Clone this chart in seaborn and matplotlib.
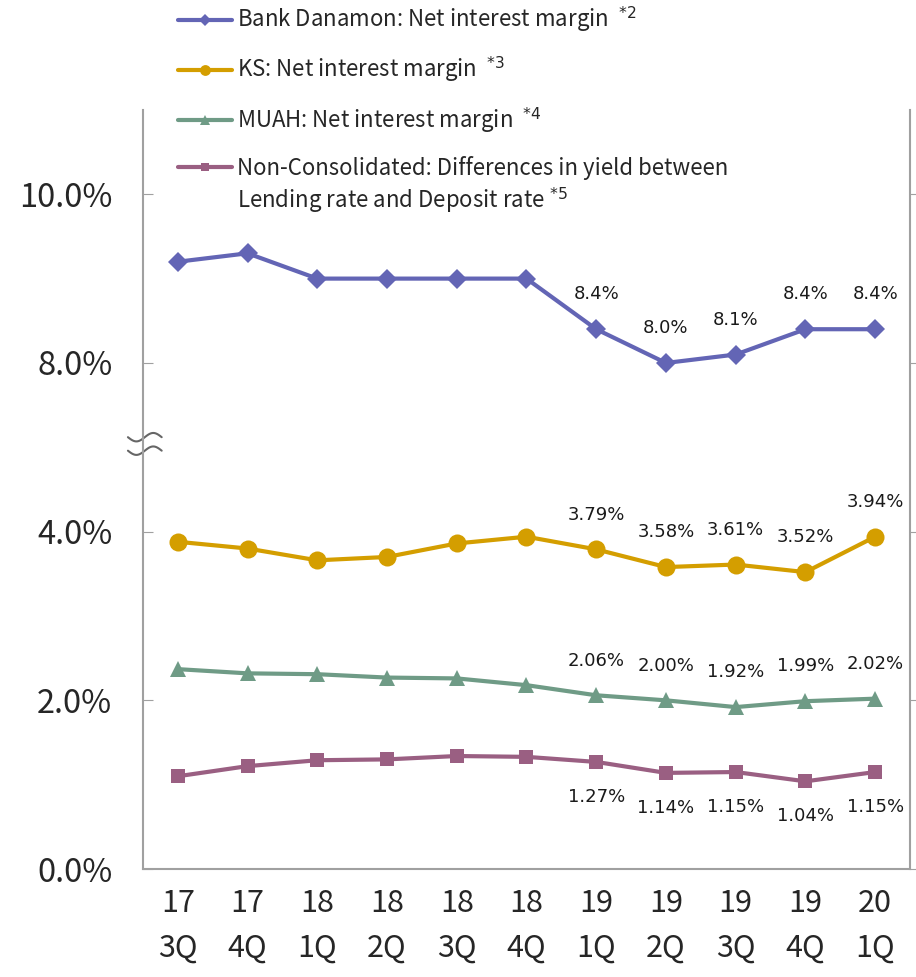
import numpy as np
import pandas as pd
import matplotlib
matplotlib.use("Agg")
import matplotlib.pyplot as plt
import matplotlib.transforms as mtransforms
from matplotlib.lines import Line2D
import seaborn as sns

# ─── DATA ─────────────────────────────────────────────────────────────────────
quarters = ["17\n3Q", "17\n4Q", "18\n1Q", "18\n2Q", "18\n3Q", "18\n4Q",
            "19\n1Q", "19\n2Q", "19\n3Q", "19\n4Q", "20\n1Q"]
danamon = [9.2, 9.3, 9.0, 9.0, 9.0, 9.0, 8.4, 8.0, 8.1, 8.4, 8.4]
ks      = [3.88, 3.80, 3.66, 3.70, 3.86, 3.94, 3.79, 3.58, 3.61, 3.52, 3.94]
muah    = [2.37, 2.32, 2.31, 2.27, 2.26, 2.18, 2.06, 2.00, 1.92, 1.99, 2.02]
noncons = [1.10, 1.22, 1.29, 1.30, 1.34, 1.33, 1.27, 1.14, 1.15, 1.04, 1.15]

ytick_vals   = [0.0, 2.0, 4.0, 8.0, 10.0]
ytick_labels = ["0.0%", "2.0%", "4.0%", "8.0%", "10.0%"]
BREAK_SHIFT = 2.0   # values above the axis break are drawn this much lower
first_label = 6     # data labels from 19 1Q onwards

# ─── STYLE ────────────────────────────────────────────────────────────────────
C_DAN = '#6365B5'
C_KS  = '#D49E00'
C_MU  = '#6F9B86'
C_NC  = '#9A5F82'
AXC   = '#A0A0A0'

sns.set_style("white")
plt.rcParams['font.family'] = ['Noto Sans CJK JP', 'DejaVu Sans']
plt.rcParams['mathtext.fontset'] = 'dejavusans'

fig = plt.figure(figsize=(9.16, 9.77), dpi=100)
ax = fig.add_axes([0.156, 0.1105, 0.8375, 0.777])

x = np.arange(len(quarters))
shown = lambda v: v - BREAK_SHIFT if v >= 6 else v

series = [
    ("Bank Danamon: Net interest margin  $^{*2}$", [shown(v) for v in danamon], danamon, C_DAN, 'D', 10, "{:.1f}%", 1),
    ("KS: Net interest margin  $^{*3}$", ks, ks, C_KS, 'o', 13, "{:.2f}%", 1),
    ("MUAH: Net interest margin  $^{*4}$", muah, muah, C_MU, '^', 12, "{:.2f}%", 1),
    ("Non-Consolidated: Differences in yield between", noncons, noncons, C_NC, 's', 9.5, "{:.2f}%", -1),
]

handles = []
for label, yvals, raw, color, mk, ms, fmt, side in series:
    sns.lineplot(x=x, y=yvals, ax=ax, color=color, marker=mk, markersize=ms,
                 markeredgewidth=0, linewidth=3, legend=False)
    for i in range(first_label, len(x)):
        ax.annotate(fmt.format(raw[i]), (x[i], yvals[i]),
                    xytext=(0, 25 * side), textcoords='offset points',
                    ha='center', va='center', fontsize=13,
                    family='DejaVu Sans', color='#1A1A1A')
    handles.append(Line2D([], [], color=color, marker=mk, markersize=ms * 0.6,
                          markeredgewidth=0, linewidth=3, label=label))

# axes & ticks
ax.set_xlim(-0.5, len(x) - 0.5)
ax.set_ylim(0, 9.0)
ax.set_xticks(x)
ax.set_xticklabels(quarters, fontsize=22, linespacing=1.55)
ax.set_yticks([shown(v) for v in ytick_vals])
ax.set_yticklabels(ytick_labels, fontsize=23.5)
ax.tick_params(axis='x', length=0, pad=14)
ax.tick_params(axis='y', direction='in', length=7, color=AXC, pad=22)
ax.spines['top'].set_visible(False)
for s in ['left', 'right', 'bottom']:
    ax.spines[s].set_color(AXC)
    ax.spines[s].set_linewidth(1.5)

ax2 = ax.twinx()
ax2.set_ylim(ax.get_ylim())
ax2.set_yticks(ax.get_yticks())
ax2.set_yticklabels([])
ax2.tick_params(axis='y', direction='out', length=5, color=AXC)
for s in ['top', 'left', 'bottom', 'right']:
    ax2.spines[s].set_visible(False)

# axis break mark
trans = mtransforms.blended_transform_factory(ax.transAxes, ax.transData)
t = np.linspace(0, 1, 60)
for base in (5.12, 4.96):
    ax.plot(-0.0195 + 0.044 * t, base - 0.05 * np.sin(2 * np.pi * t),
            transform=trans, color='#666666', lw=1.5, clip_on=False)

# legend
fig.legend(handles=handles, loc='upper left', bbox_to_anchor=(178 / 916, 1 - 5 / 977),
           frameon=False, fontsize=16, handlelength=2.45, handletextpad=0.2,
           labelspacing=0.9, borderpad=0, borderaxespad=0)
fig.text(237 / 916, 1 - 201 / 977, "Lending rate and Deposit rate $^{*5}$",
         fontsize=16, va='center', ha='left')

fig.savefig("out.png", dpi=100)
